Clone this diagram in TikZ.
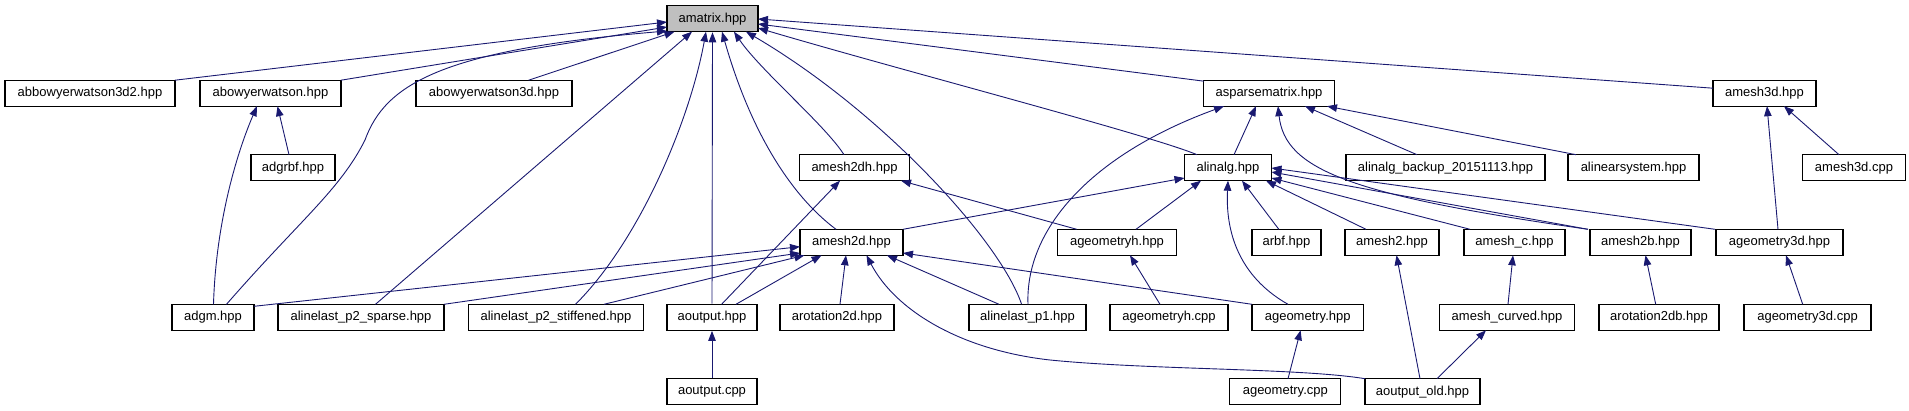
\documentclass[tikz,border=0pt]{standalone}
\usepackage{fontspec}
\setmainfont{Liberation Sans}
\usetikzlibrary{arrows.meta,calc}
\definecolor{edgecol}{HTML}{191970}
\definecolor{nodegray}{HTML}{BFBFBF}
\begin{document}
\begin{tikzpicture}[x=1pt,y=-1pt,
  box/.style={draw=black, line width=1.2pt, fill=white, inner sep=0pt, minimum height=26pt, font=\fontsize{13}{15}\selectfont},
  dep/.style={draw=edgecol, line width=0.9pt, -{Triangle[length=10pt,width=7.5pt]}},
]
\useasboundingbox (0,0) rectangle (1909,411);
% nodes
\node[box, fill=nodegray, minimum width=91pt] (amatrix) at (712.5,18.7) {amatrix.hpp};
\node[box, minimum width=170pt] (bw3d2) at (90,93.2) {abbowyerwatson3d2.hpp};
\node[box, minimum width=141pt] (bw) at (270.5,93.2) {abowyerwatson.hpp};
\node[box, minimum width=156pt] (bw3d) at (494,93.2) {abowyerwatson3d.hpp};
\node[box, minimum width=131pt] (aspm) at (1269,93.2) {asparsematrix.hpp};
\node[box, minimum width=103pt] (m3d) at (1764.5,93.2) {amesh3d.hpp};
\node[box, minimum width=84pt] (adgrbf) at (293,167.7) {adgrbf.hpp};
\node[box, minimum width=110pt] (m2dh) at (854.5,167.7) {amesh2dh.hpp};
\node[box, minimum width=87pt] (alinalg) at (1228,167.7) {alinalg.hpp};
\node[box, minimum width=199pt] (backup) at (1445.5,167.7) {alinalg\_backup\_20151113.hpp};
\node[box, minimum width=131pt] (alsys) at (1633.5,167.7) {alinearsystem.hpp};
\node[box, minimum width=103pt] (m3dcpp) at (1854,167.7) {amesh3d.cpp};
\node[box, minimum width=103pt] (m2d) at (851.5,242.3) {amesh2d.hpp};
\node[box, minimum width=119pt] (geoh) at (1117,242.3) {ageometryh.hpp};
\node[box, minimum width=69pt] (arbf) at (1286.5,242.3) {arbf.hpp};
\node[box, minimum width=94pt] (m2) at (1392,242.3) {amesh2.hpp};
\node[box, minimum width=101pt] (mc) at (1514.5,242.3) {amesh\_c.hpp};
\node[box, minimum width=101pt] (m2b) at (1640.5,242.3) {amesh2b.hpp};
\node[box, minimum width=127pt] (geo3d) at (1779.5,242.3) {ageometry3d.hpp};
\node[box, minimum width=82pt] (adgm) at (213,317.3) {adgm.hpp};
\node[box, minimum width=166pt] (sparse) at (361,317.3) {alinelast\_p2\_sparse.hpp};
\node[box, minimum width=175pt] (stiff) at (556,317.3) {alinelast\_p2\_stiffened.hpp};
\node[box, minimum width=90pt] (aout) at (712,317.3) {aoutput.hpp};
\node[box, minimum width=114pt] (rot2d) at (837,317.3) {arotation2d.hpp};
\node[box, minimum width=117pt] (p1) at (1027.5,317.3) {alinelast\_p1.hpp};
\node[box, minimum width=118pt] (geohcpp) at (1169,317.3) {ageometryh.cpp};
\node[box, minimum width=111.5pt] (geo) at (1307.7,317.3) {ageometry.hpp};
\node[box, minimum width=135pt] (mcurv) at (1507,317.3) {amesh\_curved.hpp};
\node[box, minimum width=120pt] (rot2db) at (1659,317.3) {arotation2db.hpp};
\node[box, minimum width=127pt] (geo3dcpp) at (1807.5,317.3) {ageometry3d.cpp};
\node[box, minimum width=90pt] (aoutcpp) at (712,391.7) {aoutput.cpp};
\node[box, minimum width=111pt] (geocpp) at (1285.3,391.7) {ageometry.cpp};
\node[box, minimum width=115pt] (aoutold) at (1422.5,391.7) {aoutput\_old.hpp};
% edges to amatrix
\draw[dep] ($(bw3d2)+(85,-13)$) -- ($(amatrix)+(-45.5,3.3)$);
\draw[dep] ($(bw)+(70.5,-13)$) -- ($(amatrix)+(-45.5,8.3)$);
\draw[dep] ($(adgm)+(13.5,-13)$) .. controls (300,220) and (340,190) .. (365,140) .. controls (385,85) and (440,50) .. ($(amatrix)+(-45.5,12.3)$);
\draw[dep] ($(bw3d)+(34.6,-13)$) -- ($(amatrix)+(-38,13)$);
\draw[dep] ($(sparse)+(14.5,-13)$) -- ($(amatrix)+(-20.5,13)$);
\draw[dep] ($(stiff)+(19.5,-13)$) .. controls (640,240) and (690,120) .. ($(amatrix)+(-6.5,13)$);
\draw[dep] (aout.north) -- (amatrix.south);
\draw[dep] ($(m2d)+(-15.5,-13)$) .. controls (790,195) and (750,130) .. ($(amatrix)+(9.5,13)$);
\draw[dep] ($(m2dh)+(-10.5,-13)$) .. controls (825,125) and (760,70) .. ($(amatrix)+(21.5,13)$);
\draw[dep] ($(p1)+(-5.9,-13)$) .. controls (1000,240) and (880,110) .. ($(amatrix)+(33.5,13)$);
\draw[dep] ($(alinalg)+(-31,-13)$) .. controls (1150,135) and (900,70) .. ($(amatrix)+(45.5,9.3)$);
\draw[dep] ($(aspm)+(-65,-12)$) -- ($(amatrix)+(45.5,5.3)$);
\draw[dep] ($(m3d)+(-51.5,-5)$) -- ($(amatrix)+(45.5,0.3)$);
% edges to asparsematrix
\draw[dep] ($(p1)+(0.5,-13)$) .. controls (1025,230) and (1090,155) .. ($(aspm)+(-45,13)$);
\draw[dep] ($(alinalg)+(6,-13)$) -- ($(aspm)+(-13,13)$);
\draw[dep] ($(m2b)+(-52.5,-13)$) .. controls (1350,195) and (1285,170) .. ($(aspm)+(9,13)$);
\draw[dep] ($(backup)+(-28.5,-13)$) -- ($(aspm)+(36,13)$);
\draw[dep] ($(alsys)+(-57.5,-13)$) -- ($(aspm)+(58,13)$);
% edges to amesh3d
\draw[dep] ($(geo3d)+(-1.5,-13)$) -- ($(m3d)+(2.5,13)$);
\draw[dep] ($(m3dcpp)+(-15,-13)$) -- ($(m3d)+(19.5,13)$);
% edges to abowyerwatson
\draw[dep] ($(adgrbf)+(-4,-13)$) -- ($(bw)+(7,13)$);
\draw[dep] ($(adgm)+(0.5,-13)$) .. controls (216,220) and (238,150) .. ($(bw)+(-13.5,13)$);
% edges to amesh2dh
\draw[dep] ($(aout)+(9.6,-13)$) -- ($(m2dh)+(-14.5,13)$);
\draw[dep] ($(geoh)+(-40.3,-13)$) -- ($(m2dh)+(46.5,13)$);
% edges to alinalg
\draw[dep] ($(m2d)+(51.5,-13)$) -- ($(alinalg)+(-43.5,10.3)$);
\draw[dep] ($(geoh)+(19,-13)$) -- ($(alinalg)+(-27,13)$);
\draw[dep] ($(geo)+(-19.7,-13)$) .. controls (1245,280) and (1225,240) .. ($(alinalg)+(0,13)$);
\draw[dep] ($(arbf)+(-7.7,-13)$) -- ($(alinalg)+(14,13)$);
\draw[dep] ($(m2)+(-26,-13)$) -- ($(alinalg)+(38,13)$);
\draw[dep] ($(mc)+(-44.5,-13)$) -- ($(alinalg)+(43.5,10.3)$);
\draw[dep] ($(m2b)+(-52.5,-13)$) -- ($(alinalg)+(43.5,4.3)$);
\draw[dep] ($(geo3d)+(-64.5,-13)$) -- ($(alinalg)+(43.5,0.3)$);
% edges to amesh2d
\draw[dep] ($(adgm)+(41,-11)$) -- ($(m2d)+(-51.5,4.4)$);
\draw[dep] ($(sparse)+(83,-13)$) -- ($(m2d)+(-51.5,10.7)$);
\draw[dep] ($(stiff)+(48,-13)$) -- ($(m2d)+(-47,13)$);
\draw[dep] ($(aout)+(24,-13)$) -- ($(m2d)+(-30,13)$);
\draw[dep] ($(rot2d)+(3,-13)$) -- ($(m2d)+(-5.5,13)$);
\draw[dep] ($(aoutold)+(-57.5,-13)$) .. controls (1300,368) and (1150,370) .. (1050,360) .. controls (960,350) and (895,310) .. ($(m2d)+(15,13)$);
\draw[dep] ($(p1)+(-28.5,-13)$) -- ($(m2d)+(35.5,13)$);
\draw[dep] ($(geo)+(-55.7,-13)$) -- ($(m2d)+(51.5,10.7)$);
% remaining edges
\draw[dep] ($(geohcpp)+(-9,-13)$) -- ($(geoh)+(13,13)$);
\draw[dep] ($(aoutold)+(-2.5,-13)$) -- ($(m2)+(4.5,13)$);
\draw[dep] ($(mcurv)+(1,-13)$) -- ($(mc)+(-1.5,13)$);
\draw[dep] ($(rot2db)+(-3.3,-13)$) -- ($(m2b)+(5,13)$);
\draw[dep] ($(geo3dcpp)+(-4.8,-13)$) -- ($(geo3d)+(6.5,13)$);
\draw[dep] (aoutcpp.north) -- (aout.south);
\draw[dep] ($(geocpp)+(2.7,-13)$) -- ($(geo)+(-7.1,13)$);
\draw[dep] ($(aoutold)+(14.5,-13)$) -- ($(mcurv)+(-21,13)$);
\end{tikzpicture}
\end{document}
